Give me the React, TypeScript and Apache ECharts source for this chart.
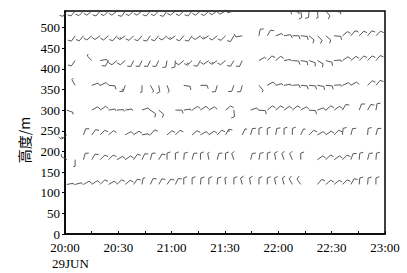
import React, { useEffect, useRef } from "react";
import * as echarts from "echarts";

// observation times, minutes after 20:00 (29 JUN)
const TIMES = [1, 5.7, 10.4, 15.1, 19.8, 24.5, 29.2, 33.9, 38.6, 43.3, 48, 52.7, 57.4, 62.1, 66.8, 71.5, 76.2, 80.9, 85.6, 90.3, 95, 99.7, 104.4, 109.1, 113.8, 118.5, 123.2, 127.9, 132.6, 137.3, 142, 146.7, 151.4, 156.1, 160.8, 165.5, 170.2, 174.9];

const HEIGHTS = [120, 180, 240, 300, 360, 420, 480, 540];

// wind direction (deg, from) per height level; null = no data
const DIR_120 = [80, 75, 60, 55, 45, 60, 45, 50, 35, 10, 25, 30, 35, 25, 0, 0, 5, 0, 5, 355, 0, 345, 350, 0, 0, 350, 345, 330, 325, null, 40, 50, 50, 45, 30, 5, 5, 0];
const DIR_180 = [300, 180, 15, 30, 45, 45, 60, 55, 35, 25, 15, 30, 0, 0, 5, 15, 0, 350, 15, 0, 340, null, 15, 10, 0, 350, 340, 335, 0, null, 55, 45, 55, 45, 20, 5, 15, 5];
const DIR_240 = [230, null, 20, 35, 45, 50, null, 60, 55, 80, 40, null, 50, 45, null, 50, 60, 55, 45, 30, null, 25, 15, 0, 0, 10, 0, 0, 25, 45, 60, 55, 45, 5, 15, null, 5, 15];
const DIR_300 = [110, null, null, 60, 55, 80, 85, 80, null, 70, 125, 130, null, 90, 80, 55, 55, 60, null, 50, 175, null, 70, 95, 50, 50, 55, 50, 60, 95, 70, 50, 55, 30, null, 20, 30, 10];
const DIR_360 = [null, 330, null, 70, 65, 95, null, 200, null, 180, 150, 170, 160, null, 100, null, 90, null, 195, null, 200, 195, null, 140, 60, 75, 80, 85, 95, 95, 100, 95, 85, 65, 60, null, 45, 40];
const DIR_420 = [null, 215, null, 315, 80, 210, 230, 230, 205, 205, 205, 205, 190, 185, 230, 225, 210, 235, 235, 230, 210, 205, null, 60, 45, 50, 80, 95, 100, 110, 120, 105, 85, 55, 50, 45, 45, 40];
const DIR_480 = [null, 215, 220, 230, 235, 230, 220, 235, 225, 220, 215, 220, 230, 235, 220, 215, 235, 240, 230, 225, 210, 260, null, 10, 30, 70, 80, 90, 95, 130, 135, 130, 95, 50, 40, 45, 40, 45];
const DIR_540 = [215, 220, 225, 230, 220, 225, 230, 215, 225, 230, 220, 225, 215, 230, 225, 220, 230, 225, 235, 240, 255, null, null, null, null, null, 90, 100, 170, 185, 175, 140, 100, null, null, null, null, null];

// wind speed (m/s) per height level
const SPD_120 = [2, 2, 4, 4, 4, 4, 4, 4, 4, 2, 4, 4, 4, 4, 4, 4, 4, 4, 4, 2, 4, 4, 4, 4, 4, 4, 4, 4, 4, 0, 4, 4, 4, 4, 4, 4, 4, 4];
const SPD_180 = [2, 2, 4, 4, 4, 4, 4, 4, 4, 4, 4, 4, 4, 4, 4, 4, 4, 2, 4, 4, 4, 0, 4, 4, 4, 4, 4, 4, 4, 0, 4, 4, 4, 4, 4, 4, 4, 4];
const SPD_240 = [6, 0, 4, 4, 4, 4, 0, 4, 4, 2, 4, 0, 4, 4, 0, 4, 4, 4, 4, 6, 0, 2, 4, 4, 4, 4, 4, 4, 2, 4, 4, 4, 4, 4, 4, 0, 4, 4];
const SPD_300 = [2, 0, 0, 4, 4, 2, 2, 2, 0, 4, 4, 4, 0, 4, 2, 4, 4, 4, 0, 4, 4, 0, 4, 4, 4, 4, 4, 4, 4, 4, 4, 4, 4, 4, 0, 4, 4, 4];
const SPD_360 = [0, 2, 0, 4, 4, 4, 0, 6, 0, 2, 2, 4, 2, 0, 4, 0, 4, 0, 4, 0, 4, 4, 0, 2, 4, 2, 2, 4, 4, 4, 4, 4, 2, 4, 4, 0, 4, 4];
const SPD_420 = [0, 4, 0, 2, 4, 4, 4, 4, 4, 4, 4, 4, 4, 4, 4, 6, 4, 4, 6, 4, 4, 4, 0, 2, 4, 4, 2, 4, 4, 4, 4, 4, 2, 4, 4, 4, 4, 4];
const SPD_480 = [0, 4, 4, 4, 4, 4, 4, 6, 4, 4, 4, 4, 4, 6, 4, 4, 4, 6, 4, 4, 4, 4, 0, 4, 4, 2, 4, 4, 4, 4, 4, 4, 4, 4, 4, 4, 4, 4];
const SPD_540 = [4, 4, 4, 4, 4, 4, 4, 4, 4, 4, 4, 4, 4, 4, 4, 4, 4, 4, 4, 4, 4, 0, 0, 0, 0, 0, 4, 2, 4, 4, 2, 4, 2, 0, 0, 0, 0, 0];

const X_TICKS = ["20:00", "20:30", "21:00", "21:30", "22:00", "22:30", "23:00"];
const DATE_LABEL = "29JUN";
const Y_NAME = "高度/m";

const LEVELS = [
  { dir: DIR_120, spd: SPD_120 },
  { dir: DIR_180, spd: SPD_180 },
  { dir: DIR_240, spd: SPD_240 },
  { dir: DIR_300, spd: SPD_300 },
  { dir: DIR_360, spd: SPD_360 },
  { dir: DIR_420, spd: SPD_420 },
  { dir: DIR_480, spd: SPD_480 },
  { dir: DIR_540, spd: SPD_540 },
];

function buildData() {
  const out: number[][] = [];
  LEVELS.forEach((lv, k) => {
    lv.dir.forEach((d, i) => {
      if (d !== null && d !== undefined) out.push([TIMES[i], HEIGHTS[k], d as number, lv.spd[i]]);
    });
  });
  return out;
}

const SERIF = '"Liberation Serif", "Times New Roman", serif';
const BARB = "#3a3a3a";

export default function App() {
  const ref = useRef<HTMLDivElement>(null);
  useEffect(() => {
    if (!ref.current) return;
    const chart = echarts.init(ref.current, null, { renderer: "svg" });
    const renderItem = (params: any, api: any) => {
      const t = api.value(0), h = api.value(1), d = api.value(2), s = api.value(3);
      const p = api.coord([t, h]);
      const rad = (d * Math.PI) / 180;
      const ux = Math.sin(rad), uy = -Math.cos(rad);
      const L = 6.5;
      const px = -uy, py = ux;
      const a = (70 * Math.PI) / 180;
      const fx = px * Math.sin(a) + ux * Math.cos(a);
      const fy = py * Math.sin(a) + uy * Math.cos(a);
      const st = { stroke: BARB, lineWidth: 0.85, fill: null };
      const children: any[] = [
        { type: "line", shape: { x1: p[0], y1: p[1], x2: p[0] + ux * L, y2: p[1] + uy * L }, style: st },
      ];
      const full = Math.floor(s / 4);
      const half = s - full * 4 >= 2 ? 1 : 0;
      let pos = L;
      for (let k = 0; k < full; k++) {
        const bx = p[0] + ux * pos, by = p[1] + uy * pos;
        children.push({ type: "line", shape: { x1: bx, y1: by, x2: bx + fx * 3.6, y2: by + fy * 3.6 }, style: st });
        pos -= 1.8;
      }
      if (half) {
        const bx = p[0] + ux * pos, by = p[1] + uy * pos;
        children.push({ type: "line", shape: { x1: bx, y1: by, x2: bx + fx * 2.1, y2: by + fy * 2.1 }, style: st });
      }
      return { type: "group", children };
    };
    chart.setOption({
      animation: false,
      grid: { left: 65, right: 22, top: 11, bottom: 39, show: true, borderColor: "#000", borderWidth: 1.5, backgroundColor: "transparent" },
      xAxis: {
        type: "value", min: 0, max: 180, interval: 30,
        axisLine: { show: true, lineStyle: { color: "#000", width: 1.5 } },
        axisTick: { show: true, inside: true, length: 3, lineStyle: { color: "#000" } },
        minorTick: { show: true, splitNumber: 2, length: 3, lineStyle: { color: "#000" } },
        splitLine: { show: false },
        axisLabel: {
          color: "#000", fontFamily: SERIF, fontSize: 13, margin: 7,
          formatter: (v: number) => X_TICKS[Math.round(v / 30)] ?? "",
        },
      },
      yAxis: {
        type: "value", min: 0, max: 540, interval: 50,
        axisLine: { show: true, lineStyle: { color: "#000", width: 1.5 } },
        axisTick: { show: true, inside: false, length: 3, lineStyle: { color: "#000" } },
        splitLine: { show: false },
        axisLabel: {
          color: "#000", fontFamily: SERIF, fontSize: 13, margin: 5, showMaxLabel: false,
          formatter: (v: number) => (v % 50 === 0 ? String(v) : ""),
        },
      },
      graphic: [
        { type: "text", left: 52, top: 257, style: { text: DATE_LABEL, font: `13px ${SERIF}`, fill: "#000" } },
        {
          type: "text", x: 24, y: 140, rotation: Math.PI / 2,
          style: { text: Y_NAME, font: '14px "Noto Sans CJK SC", sans-serif', fill: "#000", textAlign: "center", textVerticalAlign: "middle", align: "center", verticalAlign: "middle" },
        },
      ],
      series: [
        { type: "custom", renderItem, clip: false, encode: { x: 0, y: 1 }, data: buildData() },
      ],
    });
    return () => chart.dispose();
  }, []);
  return <div ref={ref} style={{ position: "absolute", left: 0, top: 0, width: 407, height: 273 }} />;
}
